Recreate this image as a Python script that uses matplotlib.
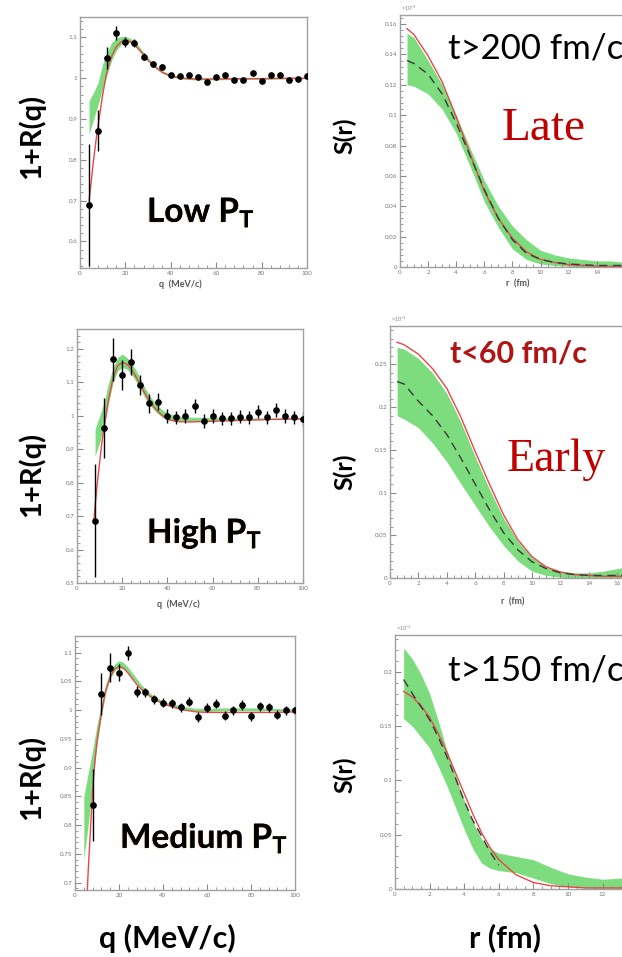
import numpy as np
import matplotlib.pyplot as plt
import matplotlib.patheffects as pe
from matplotlib.ticker import MultipleLocator, AutoMinorLocator, FuncFormatter

plt.rcParams.update({
    "font.family": ["Lato", "DejaVu Sans"],
    "mathtext.fontset": "custom",
    "mathtext.rm": "Lato",
    "mathtext.bf": "Lato:bold",
})

W, H = 622, 957

# ---- Low PT correlation (top left) ----
q_low = [4, 8, 12, 16, 20, 24, 28, 32, 36, 40, 44, 48, 52, 56, 60, 64, 68, 72, 76, 80, 84, 88, 92, 96, 100]
v_low = [0.689, 0.871, 1.05, 1.111, 1.089, 1.086, 1.053, 1.035, 1.027, 1.007, 1.006, 1.009, 1.004,
         0.991, 1.002, 1.007, 0.996, 0.996, 1.012, 0.993, 1.008, 1.007, 0.996, 0.999, 1.005]
e_low = [0.15, 0.05, 0.027, 0.018, 0.012, 0.01, 0.009, 0.008, 0.007, 0.006, 0.005, 0.005, 0.005,
         0.005, 0.005, 0.005, 0.005, 0.005, 0.005, 0.005, 0.005, 0.005, 0.005, 0.005, 0.005]
qfit_low = [4, 5, 6, 7, 8, 10, 12, 14, 16, 18, 20, 22, 24, 26, 28, 30, 33, 36, 40, 45, 50, 60, 70, 80, 90, 100]
fit_low = [0.70, 0.75, 0.80, 0.845, 0.885, 0.96, 1.02, 1.055, 1.077, 1.089, 1.093, 1.09, 1.082, 1.07,
           1.057, 1.044, 1.028, 1.015, 1.005, 1.0, 0.998, 0.998, 0.999, 0.999, 1.0, 1.0]
qband_low = [4, 6, 8, 10, 12, 14, 16, 18, 20, 22, 24, 26, 28, 30, 33, 36, 40, 45, 50, 60, 70, 80, 90, 100]
band_low_hi = [0.945, 0.965, 0.99, 1.035, 1.065, 1.088, 1.098, 1.102, 1.102, 1.098, 1.09, 1.078, 1.064,
               1.05, 1.032, 1.019, 1.009, 1.003, 1.001, 1.0, 1.0, 1.0, 1.001, 1.002]
band_low_lo = [0.863, 0.90, 0.935, 0.975, 1.01, 1.045, 1.068, 1.082, 1.088, 1.087, 1.08, 1.068, 1.055,
               1.041, 1.026, 1.013, 1.003, 0.998, 0.996, 0.996, 0.997, 0.997, 0.998, 0.999]

# ---- High PT correlation (middle left) ----
q_high = [8, 12, 16, 20, 24, 28, 32, 36, 40, 44, 48, 52, 56, 60, 64, 68, 72, 76, 80, 84, 88, 92, 96, 100]
v_high = [0.687, 0.965, 1.169, 1.123, 1.161, 1.093, 1.038, 1.043, 1.0, 0.996, 1.0, 1.03, 0.985, 1.0,
          0.993, 0.993, 0.998, 0.996, 1.013, 0.996, 1.018, 1.0, 0.996, 0.991]
e_high = [0.17, 0.09, 0.065, 0.045, 0.04, 0.03, 0.028, 0.025, 0.022, 0.02, 0.02, 0.02, 0.02, 0.02,
          0.02, 0.02, 0.02, 0.02, 0.02, 0.02, 0.02, 0.02, 0.02, 0.02]
qfit_high = [7.5, 8, 9, 10, 11, 12, 14, 16, 18, 20, 22, 24, 26, 28, 30, 32, 34, 36, 38, 40, 44, 50, 60, 70, 80, 90, 100]
fit_high = [0.69, 0.73, 0.80, 0.86, 0.92, 0.965, 1.05, 1.115, 1.15, 1.16, 1.155, 1.14, 1.118, 1.093,
            1.068, 1.045, 1.027, 1.012, 1.0, 0.99, 0.983, 0.982, 0.984, 0.986, 0.988, 0.99, 0.991]
qband_high = [8, 10, 12, 14, 16, 18, 20, 22, 24, 26, 28, 30, 32, 34, 36, 38, 40, 44, 50, 60, 70, 80, 90, 100]
band_high_hi = [0.96, 1.0, 1.04, 1.1, 1.145, 1.175, 1.185, 1.175, 1.16, 1.138, 1.112, 1.085, 1.062,
                1.043, 1.028, 1.017, 1.008, 1.0, 0.996, 0.995, 0.994, 0.994, 0.994, 0.995]
band_high_lo = [0.88, 0.92, 0.97, 1.04, 1.1, 1.135, 1.145, 1.14, 1.125, 1.105, 1.08, 1.055, 1.035,
                1.018, 1.005, 0.995, 0.988, 0.984, 0.984, 0.986, 0.988, 0.989, 0.99, 0.99]

# ---- Medium PT correlation (bottom left) ----
q_med = [8, 12, 16, 20, 24, 28, 32, 36, 40, 44, 48, 52, 56, 60, 64, 68, 72, 76, 80, 84, 88, 92, 96, 100]
v_med = [0.835, 1.028, 1.074, 1.065, 1.10, 1.032, 1.031, 1.019, 1.013, 1.012, 1.005, 1.015, 0.988,
         1.004, 1.011, 0.990, 1.0, 1.009, 0.989, 1.007, 1.005, 0.992, 1.0, 1.0]
e_med = [0.063, 0.036, 0.025, 0.015, 0.012, 0.01, 0.008, 0.008, 0.008, 0.008, 0.008, 0.008, 0.008,
         0.008, 0.008, 0.008, 0.008, 0.008, 0.008, 0.008, 0.008, 0.008, 0.008, 0.008]
qfit_med = [5.6, 6, 7, 8, 9, 10, 12, 14, 16, 18, 20, 22, 24, 26, 28, 30, 33, 36, 40, 45, 50, 55, 60, 70, 80, 90, 100]
fit_med = [0.687, 0.72, 0.79, 0.86, 0.91, 0.945, 0.995, 1.035, 1.058, 1.072, 1.076, 1.073, 1.065, 1.055,
           1.045, 1.037, 1.027, 1.019, 1.011, 1.005, 1.0, 0.997, 0.996, 0.996, 0.996, 0.996, 0.997]
qband_med = [4, 6, 8, 10, 12, 14, 16, 18, 20, 22, 24, 26, 28, 30, 33, 36, 40, 45, 50, 55, 60, 70, 80, 90, 100]
band_med_hi = [0.85, 0.89, 0.93, 0.975, 1.01, 1.045, 1.067, 1.08, 1.086, 1.083, 1.075, 1.065, 1.055,
               1.045, 1.033, 1.024, 1.016, 1.01, 1.006, 1.003, 1.003, 1.004, 1.004, 1.003, 1.002]
band_med_lo = [0.74, 0.80, 0.87, 0.94, 0.99, 1.03, 1.055, 1.068, 1.074, 1.072, 1.065, 1.056, 1.047,
               1.038, 1.028, 1.019, 1.011, 1.004, 1.0, 0.998, 0.998, 0.999, 0.999, 0.999, 0.999]

# ---- source functions S(r), units of 1e-3 ----
r_late = [0.5, 1, 2, 3, 4, 5, 6, 7, 8, 9, 10, 11, 12, 13, 14, 15, 16]
red_late = [0.157, 0.153, 0.139, 0.122, 0.099, 0.074, 0.05, 0.032, 0.019, 0.01, 0.005, 0.003, 0.0015,
            0.001, 0.0005, 0.0003, 0.0002]
dash_late = [0.136, 0.134, 0.127, 0.114, 0.095, 0.073, 0.051, 0.032, 0.018, 0.009, 0.005, 0.003,
             0.002, 0.0015, 0.001, 0.001, 0.001]
hi_late = [0.154, 0.151, 0.136, 0.12, 0.1, 0.078, 0.057, 0.04, 0.027, 0.018, 0.011, 0.008, 0.006,
           0.005, 0.004, 0.004, 0.003]
lo_late = [0.12, 0.119, 0.114, 0.104, 0.088, 0.066, 0.043, 0.026, 0.012, 0.005, 0.002, 0.001, 0.0005,
           0.0, 0.0, 0.0, 0.0]

r_early = [0.5, 1, 2, 3, 4, 5, 6, 7, 8, 9, 10, 11, 12, 13, 14, 15, 16, 17]
red_early = [0.276, 0.273, 0.262, 0.245, 0.222, 0.188, 0.148, 0.11, 0.074, 0.045, 0.025, 0.013, 0.007,
             0.004, 0.003, 0.002, 0.002, 0.002]
dash_early = [0.23, 0.227, 0.207, 0.19, 0.168, 0.14, 0.11, 0.08, 0.053, 0.033, 0.019, 0.011, 0.006,
              0.004, 0.003, 0.003, 0.003, 0.003]
hi_early = [0.27, 0.268, 0.257, 0.24, 0.216, 0.182, 0.142, 0.104, 0.07, 0.043, 0.024, 0.013, 0.008,
            0.006, 0.006, 0.008, 0.011, 0.014]
lo_early = [0.19, 0.186, 0.176, 0.158, 0.136, 0.11, 0.085, 0.06, 0.038, 0.02, 0.008, 0.003, 0.001,
            0.0, 0.0, 0.0, 0.0, 0.0]

r_mid = [0.5, 1, 1.5, 2, 2.5, 3, 3.5, 4, 4.5, 5, 5.5, 6, 7, 8, 9, 10, 11, 12, 13, 14]
red_mid = [0.182, 0.177, 0.169, 0.158, 0.143, 0.126, 0.107, 0.088, 0.069, 0.052, 0.038, 0.027, 0.013,
           0.006, 0.003, 0.002, 0.001, 0.001, 0.001, 0.001]
r_mid_dash = [0.5, 1, 1.5, 2, 2.5, 3, 3.5, 4, 4.5, 5, 5.5, 6]
dash_mid = [0.193, 0.18, 0.168, 0.156, 0.14, 0.122, 0.102, 0.081, 0.063, 0.049, 0.034, 0.022]
hi_mid = [0.222, 0.212, 0.198, 0.18, 0.155, 0.128, 0.104, 0.082, 0.062, 0.046, 0.037, 0.033, 0.03,
          0.027, 0.02, 0.014, 0.011, 0.009, 0.01, 0.011]
lo_mid = [0.157, 0.15, 0.14, 0.13, 0.113, 0.095, 0.075, 0.055, 0.037, 0.024, 0.019, 0.017, 0.015,
          0.01, 0.005, 0.002, 0.001, 0.0, 0.0, 0.0]

GREEN = "#7ddc7d"
RED = "#e8474a"
TICKC = "#8a8a8a"

fig = plt.figure(figsize=(W / 100, H / 100), dpi=100)
fig.patch.set_facecolor("white")


def add_ax(left, top, right, bottom):
    return fig.add_axes([left / W, 1 - bottom / H, (right - left) / W, (bottom - top) / H])


def fxy(x, y):
    return x / W, 1 - y / H


def style(ax, xmaj, ymaj, xmax_label=None):
    for s in ax.spines.values():
        s.set_color("#a0a0a0")
        s.set_linewidth(1.0)
    ax.xaxis.set_major_locator(MultipleLocator(xmaj))
    ax.yaxis.set_major_locator(MultipleLocator(ymaj))
    ax.xaxis.set_minor_locator(AutoMinorLocator(4 if xmaj == 2 else 5))
    ax.yaxis.set_minor_locator(AutoMinorLocator(5))
    # tick labels that would fall off the slide edge are left blank
    xfmt = FuncFormatter(lambda v, p: "" if (xmax_label is not None and v > xmax_label) else "%g" % round(v, 4))
    ax.xaxis.set_major_formatter(xfmt)
    ax.yaxis.set_major_formatter(FuncFormatter(lambda v, p: "%g" % round(v, 4)))
    ax.tick_params(which="major", direction="in", length=4, width=0.8, color=TICKC,
                   labelsize=4.5, labelcolor="#777777", pad=2)
    ax.tick_params(which="minor", direction="in", length=2, width=0.6, color=TICKC)


def corr_panel(ax, q, v, e, qf, fit, qb, hi, lo, ylim, ymaj):
    ax.fill_between(qb, lo, hi, color=GREEN, lw=0, zorder=1)
    ax.plot(qf, fit, color=RED, lw=1.0, zorder=2)
    ax.errorbar(q, v, yerr=e, fmt="o", color="black", ms=3.8, elinewidth=1.0, capsize=0, zorder=3)
    ax.set_xlim(0, 100)
    ax.set_ylim(*ylim)
    style(ax, 20, ymaj)


def source_panel(ax, r, red, hi, lo, rd, dash, ylim, ymaj, xmax_label):
    ax.fill_between(r, lo, hi, color=GREEN, lw=0, zorder=1)
    ax.plot(r, red, color=RED, lw=1.0, zorder=2)
    ax.plot(rd, dash, color="#3a3a3a", lw=1.0, ls=(0, (6, 4)), zorder=3)
    ax.set_xlim(0, 20)
    ax.set_ylim(*ylim)
    style(ax, 2, ymaj, xmax_label)


# left column
ax1 = add_ax(80, 17, 307, 268)
corr_panel(ax1, q_low, v_low, e_low, qfit_low, fit_low, qband_low, band_low_hi, band_low_lo, (0.535, 1.15), 0.1)
ax3 = add_ax(77, 329, 303, 583)
corr_panel(ax3, q_high, v_high, e_high, qfit_high, fit_high, qband_high, band_high_hi, band_high_lo, (0.5, 1.26), 0.1)
ax5 = add_ax(75, 636, 295, 890)
corr_panel(ax5, q_med, v_med, e_med, qfit_med, fit_med, qband_med, band_med_hi, band_med_lo, (0.687, 1.129), 0.05)

# right column (runs past the right edge like the original slide)
ax2 = add_ax(400, 15, 681, 267)
source_panel(ax2, r_late, red_late, hi_late, lo_late, r_late, dash_late, (0, 0.166), 0.02, 14)
ax4 = add_ax(390, 326, 674, 578)
source_panel(ax4, r_early, red_early, hi_early, lo_early, r_early, dash_early, (0, 0.295), 0.05, 16)
ax6 = add_ax(395, 635, 741, 889)
source_panel(ax6, r_mid, red_mid, hi_mid, lo_mid, r_mid_dash, dash_mid, (0, 0.234), 0.05, 12)

for x, y in [(401, 13), (391, 324), (396, 633)]:
    fig.text(*fxy(x, y), r"$\times10^{-3}$", fontsize=4, color="#888888", va="bottom")

# small axis titles
for x, y in [(180, 284), (178, 604)]:
    fig.text(*fxy(x, y), "q  (MeV/c)", fontsize=6.5, fontweight="bold", color="#555555", ha="center", va="center")
for x, y in [(518, 284), (513, 602)]:
    fig.text(*fxy(x, y), "r  (fm)", fontsize=6.5, fontweight="bold", color="#555555", ha="center", va="center")

# big labels
for y in [136, 474, 777]:
    fig.text(*fxy(31, y), "1+R(q)", fontsize=21, fontweight="bold", rotation=90, ha="center", va="center")
for y in [136, 472, 775]:
    fig.text(*fxy(345, y), "S(r)", fontsize=18, fontweight="bold", rotation=90, ha="center", va="center")
fig.text(*fxy(167, 938), "q (MeV/c)", fontsize=22, fontweight="bold", ha="center", va="center")
fig.text(*fxy(505, 938), "r (fm)", fontsize=22, fontweight="bold", ha="center", va="center")

# panel annotations
glow = [pe.withSimplePatchShadow(offset=(-0.8, -0.6), shadow_rgbFace="#e8a040", alpha=0.35), pe.Normal()]
fig.text(*fxy(147, 222), r"Low P$_\mathbf{T}$", fontsize=24, fontweight="bold", va="baseline", path_effects=glow)
fig.text(*fxy(147, 543), r"High P$_\mathbf{T}$", fontsize=24, fontweight="bold", va="baseline", path_effects=glow)
fig.text(*fxy(120, 848), r"Medium P$_\mathbf{T}$", fontsize=24, fontweight="bold", va="baseline", path_effects=glow)

fig.text(*fxy(448, 59), "t>200 fm/c", fontsize=25, va="baseline")
fig.text(*fxy(448, 680), "t>150 fm/c", fontsize=25, va="baseline")
fig.text(*fxy(450, 362), "t<60 fm/c", fontsize=22, fontweight="bold", color="#b01414", va="baseline")
fig.text(*fxy(502, 140), "Late", fontsize=34, family="Liberation Serif", color="#c00000", va="baseline")
fig.text(*fxy(507, 471), "Early", fontsize=33, family="Liberation Serif", color="#c00000", va="baseline")

fig.savefig("out.png", dpi=100)
